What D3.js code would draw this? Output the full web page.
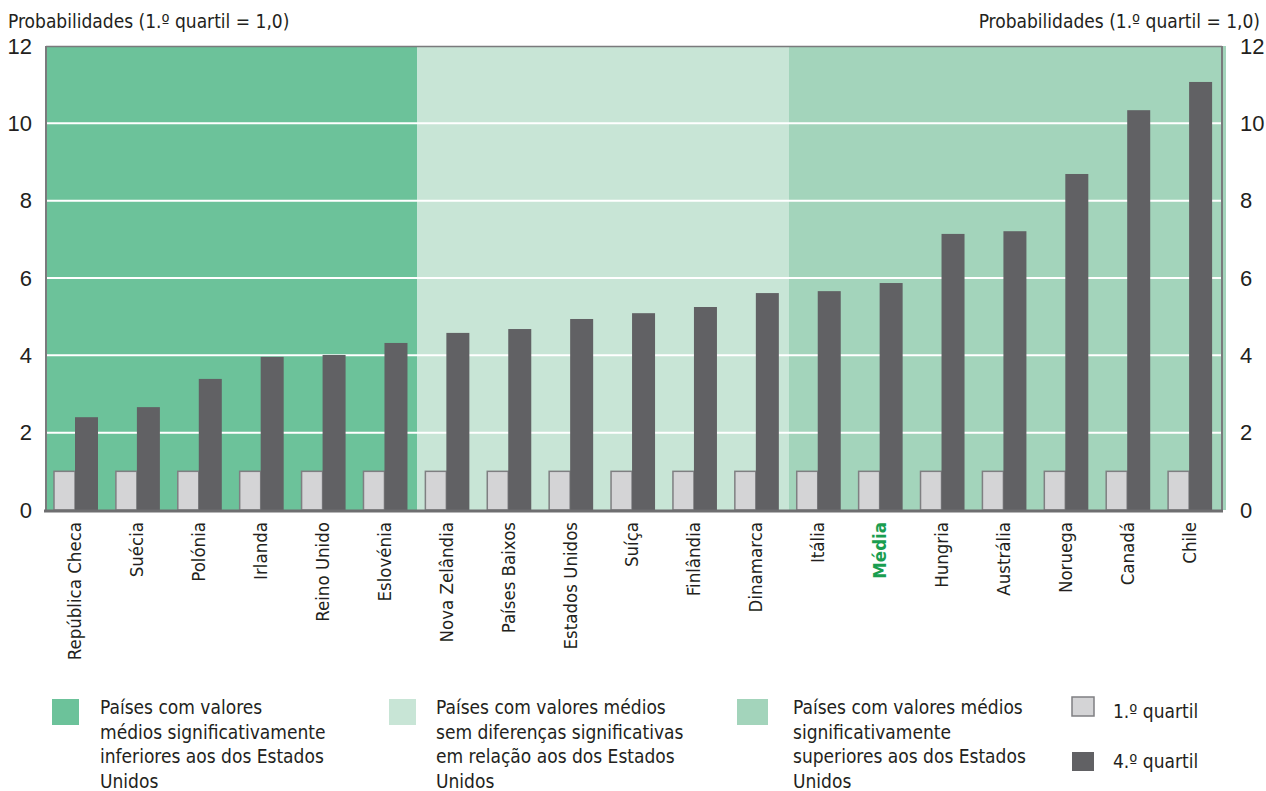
<!DOCTYPE html>
<html lang="pt">
  <head>
    <meta charset="UTF-8" />
    <title>Probabilidades por quartil</title>
    <script src="https://cdnjs.cloudflare.com/ajax/libs/d3/7.8.5/d3.min.js"></script>
    <style>
      body {
        margin: 0;
        background: #fff;
        font-family: "Liberation Sans Narrow", "DejaVu Sans Condensed", sans-serif;
      }
      text {
        fill: #231f20;
      }
    </style>
  </head>
  <body>
    <svg id="chart" width="1266" height="791"></svg>
    <script>
      // data
      const countries = [
        "República Checa", "Suécia", "Polónia", "Irlanda", "Reino Unido",
        "Eslovénia", "Nova Zelândia", "Países Baixos", "Estados Unidos",
        "Suíça", "Finlândia", "Dinamarca", "Itália", "Média", "Hungria",
        "Austrália", "Noruega", "Canadá", "Chile"
      ];
      const quartil1 = [1, 1, 1, 1, 1, 1, 1, 1, 1, 1, 1, 1, 1, 1, 1, 1, 1, 1, 1];
      const quartil4 = [
        2.4, 2.66, 3.39, 3.96, 4.01, 4.32, 4.58, 4.68, 4.94, 5.09, 5.25,
        5.61, 5.66, 5.87, 7.14, 7.21, 8.69, 10.34, 11.07
      ];
      // groups of countries by significance vs Estados Unidos
      const groupNames = ["inferior", "semDiferenca", "superior"];
      const groupStart = ["República Checa", "Nova Zelândia", "Itália"];
      const groupEnd = ["Eslovénia", "Dinamarca", "Chile"];
      const groupLabels = [
        ["Países com valores", "médios significativamente", "inferiores aos dos Estados", "Unidos"],
        ["Países com valores médios", "sem diferenças significativas", "em relação aos dos Estados", "Unidos"],
        ["Países com valores médios", "significativamente", "superiores aos dos Estados", "Unidos"]
      ];
      const yTicks = [0, 2, 4, 6, 8, 10, 12];
      const axisTitle = "Probabilidades (1.º quartil = 1,0)";

      const groupColors = ["#6cc29a", "#c8e5d6", "#a3d4bb"];
      const q1Color = "#d4d4d6";
      const q4Color = "#616164";

      const svg = d3.select("#chart");
      const margin = { left: 46, right: 44, top: 46, bottom: 281 };
      const width = 1266 - margin.left - margin.right;
      const height = 791 - margin.top - margin.bottom;

      const g = svg.append("g").attr("transform", `translate(${margin.left},${margin.top})`);

      const x = d3.scaleBand().domain(countries).range([0, width]).paddingInner(0).paddingOuter(0);
      const y = d3.scaleLinear().domain([0, 12]).range([height, 0]);
      const step = x.step();

      // group backgrounds
      groupNames.forEach((name, i) => {
        const x0 = x(groupStart[i]);
        let x1 = x(groupEnd[i]) + step;
        if (i === groupNames.length - 1) x1 += 4;
        g.append("rect")
          .attr("x", x0)
          .attr("y", 0)
          .attr("width", x1 - x0)
          .attr("height", height)
          .attr("fill", groupColors[i]);
      });

      // gridlines
      g.selectAll(".grid")
        .data(yTicks.filter((t) => t > 0 && t < 12))
        .enter()
        .append("line")
        .attr("x1", 0)
        .attr("x2", width)
        .attr("y1", (d) => y(d))
        .attr("y2", (d) => y(d))
        .attr("stroke", "#fff")
        .attr("stroke-width", 2);

      // frame lines
      g.append("line").attr("x1", 0).attr("x2", width).attr("y1", 0.5).attr("y2", 0.5)
        .attr("stroke", "#7a7a7c").attr("stroke-width", 1.5);
      g.append("line").attr("x1", 0).attr("x2", 0).attr("y1", 0).attr("y2", height)
        .attr("stroke", "#7a7a7c").attr("stroke-width", 2);
      g.append("line").attr("x1", width).attr("x2", width).attr("y1", 0).attr("y2", height)
        .attr("stroke", "#7a7a7c").attr("stroke-width", 2);

      // bars
      const q1Off = 8, q1W = 21, q4W = 23;
      g.selectAll(".q1")
        .data(countries)
        .enter()
        .append("rect")
        .attr("x", (d) => x(d) + q1Off)
        .attr("y", (d, i) => y(quartil1[i]))
        .attr("width", q1W)
        .attr("height", (d, i) => y(0) - y(quartil1[i]))
        .attr("fill", q1Color)
        .attr("stroke", "#7f7f82")
        .attr("stroke-width", 1.5);

      g.selectAll(".q4")
        .data(countries)
        .enter()
        .append("rect")
        .attr("x", (d) => x(d) + q1Off + q1W)
        .attr("y", (d, i) => y(quartil4[i]))
        .attr("width", q4W)
        .attr("height", (d, i) => y(0) - y(quartil4[i]))
        .attr("fill", q4Color);

      // bottom axis line
      g.append("line").attr("x1", -2).attr("x2", width + 1).attr("y1", height + 1).attr("y2", height + 1)
        .attr("stroke", "#6e6e70").attr("stroke-width", 3);

      // y axes
      const leftAxis = g.append("g").call(d3.axisLeft(y).tickValues(yTicks).tickSize(0).tickPadding(14));
      leftAxis.select(".domain").remove();
      leftAxis.selectAll("text").attr("font-size", 22).attr("font-family", "inherit").attr("fill", "#231f20");

      const rightAxis = g.append("g").attr("transform", `translate(${width},0)`)
        .call(d3.axisRight(y).tickValues(yTicks).tickSize(0).tickPadding(18));
      rightAxis.select(".domain").remove();
      rightAxis.selectAll("text").attr("font-size", 22).attr("font-family", "inherit").attr("fill", "#231f20");

      // axis titles
      svg.append("text").attr("x", 8).attr("y", 28).attr("font-size", 19).text(axisTitle);
      svg.append("text").attr("x", 1260).attr("y", 28).attr("text-anchor", "end").attr("font-size", 19).text(axisTitle);

      // x labels
      g.selectAll(".xlab")
        .data(countries)
        .enter()
        .append("text")
        .attr("transform", (d) => `translate(${x(d) + step / 2 - 2},${height + 12}) rotate(-90)`)
        .attr("text-anchor", "end")
        .attr("dy", "0.35em")
        .attr("font-size", 18.5)
        .attr("font-weight", (d) => (d === "Média" ? "bold" : "normal"))
        .style("fill", (d) => (d === "Média" ? "#1a9e50" : "#231f20"))
        .text((d) => d);

      // legend: groups
      const legX = [52, 389, 737];
      const legTextX = [100, 436, 793];
      groupLabels.forEach((lines, i) => {
        svg.append("rect").attr("x", legX[i]).attr("y", 699).attr("width", i === 2 ? 31 : 27).attr("height", 26)
          .attr("fill", groupColors[i]);
        const t = svg.append("text").attr("x", legTextX[i]).attr("y", 714).attr("font-size", 19);
        lines.forEach((l, k) => {
          t.append("tspan").attr("x", legTextX[i]).attr("dy", k === 0 ? 0 : 24.5).text(l);
        });
      });

      // legend: quartiles
      svg.append("rect").attr("x", 1072).attr("y", 697).attr("width", 22).attr("height", 19)
        .attr("fill", q1Color).attr("stroke", "#7f7f82").attr("stroke-width", 1.5);
      svg.append("text").attr("x", 1113).attr("y", 718).attr("font-size", 19).text("1.º quartil");
      svg.append("rect").attr("x", 1072).attr("y", 752).attr("width", 22).attr("height", 19)
        .attr("fill", q4Color);
      svg.append("text").attr("x", 1113).attr("y", 768).attr("font-size", 19).text("4.º quartil");
    </script>
  </body>
</html>
